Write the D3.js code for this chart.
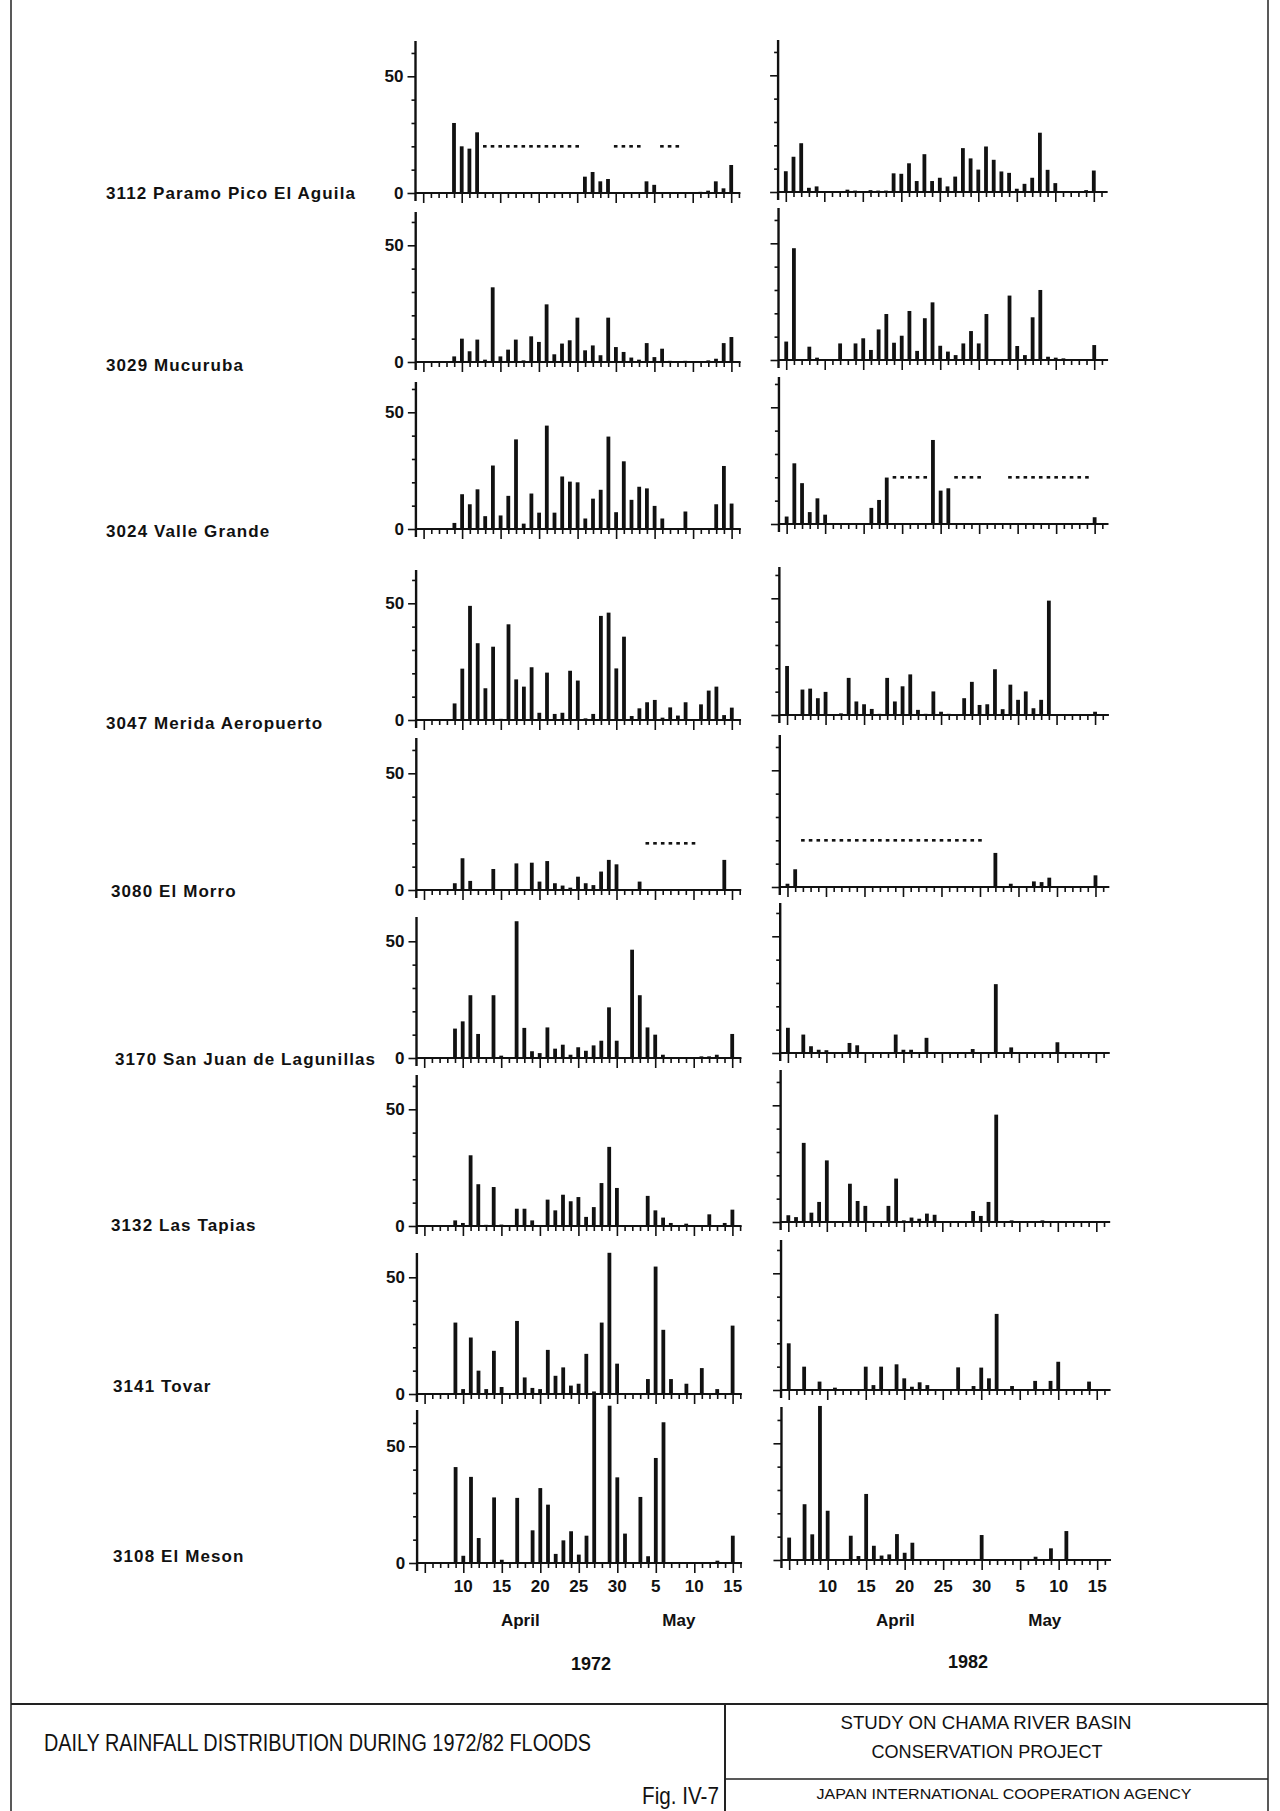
<!DOCTYPE html>
<html><head><meta charset="utf-8">
<script src="https://cdn.jsdelivr.net/npm/d3@7"></script>
<style>
html,body{margin:0;padding:0;background:#fff;}
svg{display:block;}
text{font-family:"Liberation Sans",Arial,Helvetica,sans-serif;fill:#111;}
</style></head><body>
<svg id="chart" width="1280" height="1811"></svg>
<script>
// ---------------- DATA ----------------
// day index: April d -> d, May d -> 30 + d
const stationNames = ["3112 Paramo Pico El Aguila","3029 Mucuruba","3024 Valle Grande","3047 Merida Aeropuerto",
  "3080 El Morro","3170 San Juan de Lagunillas","3132 Las Tapias","3141 Tovar","3108 El Meson"];
const years = ["1972","1982"];
const xTickDays = [10,15,20,25,30,35,40,45];
const xTickLabels = ["10","15","20","25","30","5","10","15"];
const monthNames = ["April","May"];
const yTickValues = [0,10,20,30,40,50,60];
const yTickLabels = {0:"0",50:"50"};
const missingLevel = 20;

// 1972 daily rainfall (mm): [day, value]
const r1972_3112 = [[9,30],[10,20],[11,19],[12,26],[26,7],[27,9],[28,5],[29,6],[34,5],[35,3.5],[41,0.5],[42,1],[43,5],[44,2],[45,12]];
const r1972_3029 = [[9,2.4],[10,10],[11,4.6],[12,9.6],[13,1],[14,32],[15,2.4],[16,5.3],[17,9.6],[18,0.7],[19,11],[20,8.6],[21,24.7],[22,3.3],[23,7.9],[24,9.3],[25,19],[26,5],[27,7.1],[28,2.9],[29,19],[30,6.4],[31,4.3],[32,1.9],[33,1],[34,8.1],[35,2.1],[36,5.7],[37,0.5],[39,0.5],[42,0.7],[43,1.4],[44,8.1],[45,10.7]];
const r1972_3024 = [[9,2.6],[10,14.9],[11,10.6],[12,17],[13,5.5],[14,27.2],[15,5.8],[16,14.2],[17,38.4],[18,2.3],[19,15.2],[20,7],[21,44.3],[22,7],[23,22.5],[24,20.3],[25,20],[26,4.5],[27,13],[28,16.8],[29,39.6],[30,7.2],[31,29],[32,12.5],[33,18.1],[34,17.4],[35,9.9],[36,4.5],[39,7.5],[43,10.6],[44,27],[45,10.9]];
const r1972_3047 = [[9,7.1],[10,22],[11,48.9],[12,32.9],[13,13.6],[14,31.4],[15,0.5],[16,41],[17,17.4],[18,14.3],[19,22.6],[20,3.1],[21,20.3],[22,2.6],[23,3.1],[24,21.1],[25,16.9],[26,0.7],[27,2.6],[28,44.6],[29,46],[30,22.1],[31,35.7],[32,1.7],[33,5],[34,7.6],[35,8.6],[36,1],[37,5.4],[38,1.9],[39,7.6],[41,6.7],[42,12.6],[43,14.3],[44,2.1],[45,5.3]];
const r1972_3080 = [[9,2.9],[10,13.6],[11,3.9],[14,9],[17,11.4],[19,11.7],[20,3.6],[21,12.4],[22,2.9],[23,1.9],[24,1],[25,5.7],[26,2.9],[27,2.1],[28,7.9],[29,12.9],[30,11],[33,3.6],[44,12.9]];
const r1972_3170 = [[9,12.6],[10,15.7],[11,26.9],[12,10.3],[14,26.9],[15,1],[17,58.6],[18,12.9],[19,2.9],[20,2.1],[21,13.1],[22,4],[23,5.7],[24,1.4],[25,4.6],[26,3.1],[27,5.4],[28,7.4],[29,21.7],[30,7.4],[32,46.4],[33,26.9],[34,13.1],[35,10],[36,1.4],[41,0.7],[42,0.7],[43,1.4],[45,10.3]];
const r1972_3132 = [[9,2.4],[10,1.3],[11,30.3],[12,17.9],[13,0.5],[14,16.7],[15,0.6],[17,7.4],[18,7.4],[19,2.4],[21,11.3],[22,6.7],[23,13.4],[24,10.6],[25,12.4],[26,3.9],[27,8.1],[28,18.4],[29,33.9],[30,16.3],[34,12.9],[35,6.7],[36,3.6],[37,1.3],[39,1],[42,5],[44,1.3],[45,7]];
const r1972_3141 = [[9,30.6],[10,2.1],[11,24.2],[12,10],[13,2.1],[14,18.5],[15,3],[17,31.3],[18,7.1],[19,2.6],[20,2.1],[21,18.9],[22,7.8],[23,11.4],[24,3.6],[25,4.4],[26,17.2],[27,1.1],[28,30.6],[29,60.5],[30,13],[34,6.4],[35,54.6],[36,27.5],[37,6.4],[39,4.4],[41,11.1],[43,2.1],[45,29.3]];
const r1972_3108 = [[9,41.1],[10,3.1],[11,36.9],[12,10.7],[14,28.1],[15,1.4],[17,27.9],[19,14],[20,32.1],[21,25],[22,3.9],[23,9.7],[24,13.6],[25,3.6],[26,11.7],[27,72],[29,67.4],[30,36.7],[31,12.6],[33,28.3],[34,2.9],[35,45],[36,60.3],[43,1],[45,11.7]];

// 1982 daily rainfall (mm): [day, value]
const r1982_3112 = [[5,8.9],[6,15.1],[7,20.9],[8,1.8],[9,2.4],[13,1],[14,0.6],[16,0.8],[17,0.6],[18,0.6],[19,8],[20,7.8],[21,12.3],[22,4.7],[23,16.2],[24,4.7],[25,6.1],[26,2.4],[27,6.6],[28,18.8],[29,14.4],[30,9.6],[31,19.5],[32,13.8],[33,8.8],[34,8.2],[35,1.4],[36,3.5],[37,6.1],[38,25.4],[39,9.5],[40,3.8],[44,0.8],[45,9.2]];
const r1982_3029 = [[5,7.9],[6,47.9],[8,5.7],[9,1],[12,7.1],[14,7.1],[15,9.3],[16,4.3],[17,13.1],[18,19.7],[19,7.4],[20,10.4],[21,21],[22,3.9],[23,17.9],[24,24.7],[25,6.1],[26,3.6],[27,2.1],[28,7.1],[29,12.4],[30,7.1],[31,19.7],[34,27.6],[35,6],[36,2.1],[37,18.3],[38,30],[39,1.4],[40,1],[41,0.7],[45,6.4]];
const r1982_3024 = [[5,3.2],[6,26],[7,17.5],[8,5.1],[9,11],[10,4],[16,6.9],[17,10.3],[18,19.9],[24,36],[25,14.3],[26,15.3],[45,2.9]];
const r1982_3047 = [[5,21],[7,10.9],[8,11.3],[9,7.2],[10,9.9],[12,0.7],[13,15.9],[14,5.8],[15,4.6],[16,2.6],[17,0.5],[18,15.9],[19,5.8],[20,12.3],[21,17.4],[22,2.2],[23,0.5],[24,10.1],[25,1.4],[26,0.5],[28,7.2],[29,14.2],[30,4.3],[31,4.6],[32,19.6],[33,2.5],[34,13],[35,6.5],[36,10.1],[37,2.9],[38,6.5],[39,49],[45,1.4]];
const r1982_3080 = [[5,1.4],[6,7.6],[32,14.6],[34,1.4],[37,2.4],[38,2.1],[39,4],[45,5]];
const r1982_3170 = [[5,10.8],[7,7.9],[8,2.9],[9,1.4],[10,1.2],[13,4.3],[14,3.3],[19,7.9],[20,1.4],[21,1.4],[23,6.5],[29,1.7],[32,29.5],[34,2.4],[40,4.6]];
const r1982_3132 = [[5,2.9],[6,2.1],[7,33.9],[8,4],[9,8.6],[10,26.4],[13,16.4],[14,9],[15,6.9],[18,6.9],[19,18.6],[20,0.7],[21,1.9],[22,1.4],[23,3.6],[24,3.1],[29,4.7],[30,2.6],[31,8.6],[32,46],[34,0.7],[38,0.7]];
const r1982_3141 = [[5,20],[7,10],[9,3.6],[11,1],[15,10],[16,2.1],[17,10],[19,11],[20,5],[21,1.4],[22,3.3],[23,2.1],[27,9.7],[29,1.7],[30,9.6],[31,5],[32,32.6],[34,1.7],[37,3.9],[39,3.9],[40,12.1],[44,3.6]];
const r1982_3108 = [[5,9.6],[7,23.9],[8,11],[9,66],[10,21.1],[13,10.4],[14,1.7],[15,28.3],[16,6.1],[17,1.9],[18,2.4],[19,11.1],[20,3.1],[21,7.4],[30,10.7],[37,1.4],[39,5],[41,12.4]];

// days without record (dotted marks)
const miss1972_3112 = [13,14,15,16,17,18,19,20,21,22,23,24,25,30,31,32,33,36,37,38];
const miss1972_3080 = [34,35,36,37,38,39,40];
const miss1982_3024 = [19,20,21,22,23,27,28,29,30,34,35,36,37,38,39,40,41,42,43,44];
const miss1982_3080 = [7,8,9,10,11,12,13,14,15,16,17,18,19,20,21,22,23,24,25,26,27,28,29,30];

const series1972 = [r1972_3112,r1972_3029,r1972_3024,r1972_3047,r1972_3080,r1972_3170,r1972_3132,r1972_3141,r1972_3108];
const series1982 = [r1982_3112,r1982_3029,r1982_3024,r1982_3047,r1982_3080,r1982_3170,r1982_3132,r1982_3141,r1982_3108];
const missing1972 = [miss1972_3112,[],[],[],miss1972_3080,[],[],[],[]];
const missing1982 = [[],[],miss1982_3024,[],miss1982_3080,[],[],[],[]];

// ---------------- LAYOUT ----------------
const baseL = [193,362,529,720,890,1058,1226,1394,1563];
const baseR = [192,360,524,715,887,1053,1222,1390,1560];
const topL  = [41,212,382,570,738,917,1075,1253,1410];
const topR  = [40,208,377,567,735,903,1070,1240,1407];
const labelX = [106,106,106,106,111,115,111,113,113];
const labelY = [198.5,370.5,537,729,896.5,1064.5,1231,1391.5,1561.5];
const px50 = 116.7;
const dayPx = 7.7;
const sides = [
  {x0:461.7, shift:0.2, base:baseL, top:topL, series:series1972, missing:missing1972, axisEnd:46.2, labels:true,
   monthDay:[17.4,38.0], yearX:591, yearY:1670},
  {x0:824.3, shift:0.42, base:baseR, top:topR, series:series1982, missing:missing1982, axisEnd:46.8, labels:false,
   monthDay:[18.8,38.2], yearX:968, yearY:1668}
];

const svg = d3.select("#chart");
svg.append("rect").attr("width",1280).attr("height",1811).attr("fill","#fff");

sides.forEach((S, si) => {
  for (let i = 0; i < 9; i++) {
    const x = d3.scaleLinear().domain([10,45]).range([S.x0 + i*S.shift, S.x0 + i*S.shift + 35*dayPx]);
    const base = S.base[i];
    const y = d3.scaleLinear().domain([0,50]).range([base, base - px50]);
    const g = svg.append("g");
    const ax0 = x(4);

    // y axis line
    g.append("line").attr("x1",ax0).attr("x2",ax0).attr("y1",S.top[i]).attr("y2",base+8)
      .attr("stroke","#111").attr("stroke-width",2.4);
    // y ticks via d3 axis
    const yt = yTickValues.filter(v => y(v) > S.top[i] + 2);
    const yAx = g.append("g").attr("transform",`translate(${ax0},0)`)
      .call(d3.axisLeft(y).tickValues(yt).tickSize(4).tickPadding(6)
        .tickFormat(v => (S.labels && yTickLabels[v] !== undefined) ? yTickLabels[v] : ""));
    yAx.select(".domain").remove();
    yAx.selectAll(".tick line").attr("stroke","#111").attr("stroke-width",1.6)
      .attr("x2", v => (yTickLabels[v] !== undefined ? -8 : -4));
    yAx.selectAll(".tick text").attr("x",-12).attr("font-size",17).attr("font-weight","bold")
      .attr("fill","#111").attr("font-family","'Liberation Sans',Arial,sans-serif");

    // x axis
    const dayTicks = d3.range(5, 47);
    const xAx = g.append("g").attr("transform",`translate(0,${base})`)
      .call(d3.axisBottom(x).tickValues(dayTicks).tickSize(5).tickFormat(""));
    xAx.select(".domain").remove();
    xAx.selectAll(".tick line").attr("stroke","#111").attr("stroke-width",1.6)
      .attr("y2", d => d % 5 === 0 ? 10 : 5);
    g.append("line").attr("x1",ax0).attr("x2",x(S.axisEnd)).attr("y1",base).attr("y2",base)
      .attr("stroke","#111").attr("stroke-width",1.9);

    // bars
    g.selectAll("rect.bar").data(S.series[i]).join("rect").attr("class","bar")
      .attr("x", d => x(d[0]) - 1.9).attr("width", 3.8)
      .attr("y", d => y(d[1])).attr("height", d => base - y(d[1]))
      .attr("fill","#111");

    // missing-record dashes
    g.selectAll("rect.miss").data(S.missing[i]).join("rect").attr("class","miss")
      .attr("x", d => x(d) - 1.8).attr("width", 3.6)
      .attr("y", y(missingLevel) - 1.3).attr("height", 2.6).attr("fill","#111");

    if (i === 8) {
      g.selectAll("text.xt").data(xTickDays).join("text").attr("class","xt")
        .attr("x", (d) => x(d)).attr("y", 1592).attr("text-anchor","middle")
        .attr("font-size",17).attr("font-weight","bold").text((d,j) => xTickLabels[j]);
      g.selectAll("text.mo").data(monthNames).join("text").attr("class","mo")
        .attr("x", (d,j) => x(S.monthDay[j])).attr("y", 1626).attr("text-anchor","middle")
        .attr("font-size",17).attr("font-weight","bold").text(d => d);
    }
  }
  svg.append("text").attr("x", S.yearX).attr("y", S.yearY).attr("text-anchor","middle")
    .attr("font-size",18).attr("font-weight","bold").text(years[si]);
});

// station labels
svg.selectAll("text.st").data(stationNames).join("text").attr("class","st")
  .attr("x",(d,i)=>labelX[i]).attr("y",(d,i)=>labelY[i])
  .attr("font-size",17).attr("font-weight","bold").attr("letter-spacing",1.1).text(d=>d);

// frame & title block
const frame = svg.append("g").attr("stroke","#222").attr("fill","none");
frame.append("line").attr("x1",11).attr("x2",11).attr("y1",0).attr("y2",1811).attr("stroke-width",1.5);
frame.append("line").attr("x1",1268).attr("x2",1268).attr("y1",0).attr("y2",1811).attr("stroke-width",1.5);
frame.append("line").attr("x1",11).attr("x2",1268).attr("y1",1704).attr("y2",1704).attr("stroke-width",2.2);
frame.append("line").attr("x1",725).attr("x2",725).attr("y1",1704).attr("y2",1811).attr("stroke-width",2);
frame.append("line").attr("x1",725).attr("x2",1268).attr("y1",1779).attr("y2",1779).attr("stroke-width",1.6);

const narrow = "'Liberation Sans Narrow','Arial Narrow','Liberation Sans',Arial,sans-serif";
const tb = [
  {t:"DAILY RAINFALL DISTRIBUTION DURING 1972/82 FLOODS", x:44, y:1751, fs:23, len:547, anchor:"start"},
  {t:"Fig. IV-7", x:642, y:1804, fs:24, len:77, anchor:"start"},
  {t:"STUDY ON CHAMA RIVER BASIN", x:986, y:1729, fs:18, len:291, anchor:"middle"},
  {t:"CONSERVATION PROJECT", x:987, y:1758, fs:18, len:231, anchor:"middle"},
  {t:"JAPAN INTERNATIONAL COOPERATION AGENCY", x:1004, y:1799, fs:14, len:375, anchor:"middle"}
];
svg.selectAll("text.tb").data(tb).join("text").attr("class","tb")
  .attr("x",d=>d.x).attr("y",d=>d.y).attr("text-anchor",d=>d.anchor)
  .attr("font-size",d=>d.fs).attr("font-family",narrow)
  .attr("textLength",d=>d.len).attr("lengthAdjust","spacingAndGlyphs").text(d=>d.t);
</script>
</body></html>
